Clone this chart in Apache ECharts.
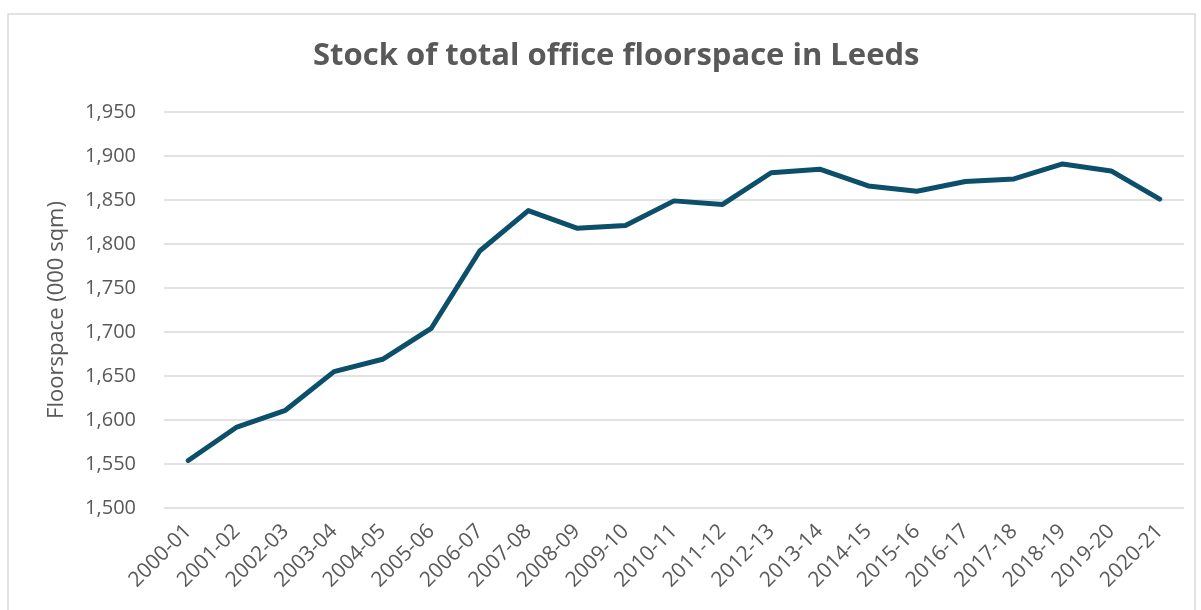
<!DOCTYPE html>
<html>
<head>
<meta charset="utf-8">
<script src="https://cdn.jsdelivr.net/npm/echarts@6/dist/echarts.min.js"></script>
<style>
  html, body { margin: 0; padding: 0; background: #fff; }
  #chart { width: 1201px; height: 610px; }
</style>
</head>
<body>
<div id="chart"></div>
<script>
// Financial years on the x axis
const years = [
  '2000-01', '2001-02', '2002-03', '2003-04', '2004-05', '2005-06', '2006-07',
  '2007-08', '2008-09', '2009-10', '2010-11', '2011-12', '2012-13', '2013-14',
  '2014-15', '2015-16', '2016-17', '2017-18', '2018-19', '2019-20', '2020-21'
]

// Office floorspace stock, 000 sqm
const floorspace = [
  1554, 1592, 1611, 1655, 1669, 1704, 1792,
  1838, 1818, 1821, 1849, 1845, 1881, 1885,
  1866, 1860, 1871, 1874, 1891, 1883, 1851
]

const yMin = 1500
const yMax = 1950
const yStep = 50

const textGrey = '#595959'
const gridGrey = '#d9d9d9'
const lineColor = '#0b4f6a'
const font = '"Open Sans", "Noto Sans", sans-serif'

const chart = echarts.init(document.getElementById('chart'))

chart.setOption({
  backgroundColor: '#fff',
  animation: false,
  textStyle: { fontFamily: font, color: textGrey },
  title: {
    text: 'Stock of total office floorspace in Leeds',
    // centred over the plot area rather than the whole canvas
    left: 308,
    top: 36,
    textStyle: { fontFamily: font, fontSize: 31, fontWeight: 'bold', color: textGrey }
  },
  graphic: [{
    type: 'rect',
    shape: { x: 8, y: 14, width: 1187, height: 620 },
    style: { fill: 'none', stroke: gridGrey, lineWidth: 1.5 },
    silent: true
  }],
  grid: { left: 164, right: 17, top: 112, bottom: 102 },
  xAxis: {
    type: 'category',
    data: years,
    boundaryGap: true,
    axisLine: { show: false },
    axisTick: { show: false },
    axisLabel: {
      rotate: 45,
      margin: 20,
      interval: 0,
      fontSize: 21,
      color: textGrey,
      fontFamily: font
    }
  },
  yAxis: {
    type: 'value',
    min: yMin,
    max: yMax,
    interval: yStep,
    name: 'Floorspace (000 sqm)',
    nameLocation: 'middle',
    nameGap: 96,
    nameTextStyle: { fontSize: 22, color: textGrey, fontFamily: font },
    axisLine: { show: false },
    axisTick: { show: false },
    axisLabel: {
      margin: 28,
      fontSize: 20,
      color: textGrey,
      fontFamily: font,
      formatter: (v) => v.toLocaleString('en-GB')
    },
    splitLine: { lineStyle: { color: gridGrey, width: 1.5 } }
  },
  series: [{
    name: 'Floorspace',
    type: 'line',
    data: floorspace,
    symbol: 'none',
    smooth: false,
    lineStyle: { color: lineColor, width: 5, cap: 'round', join: 'round' }
  }]
})
</script>
</body>
</html>
